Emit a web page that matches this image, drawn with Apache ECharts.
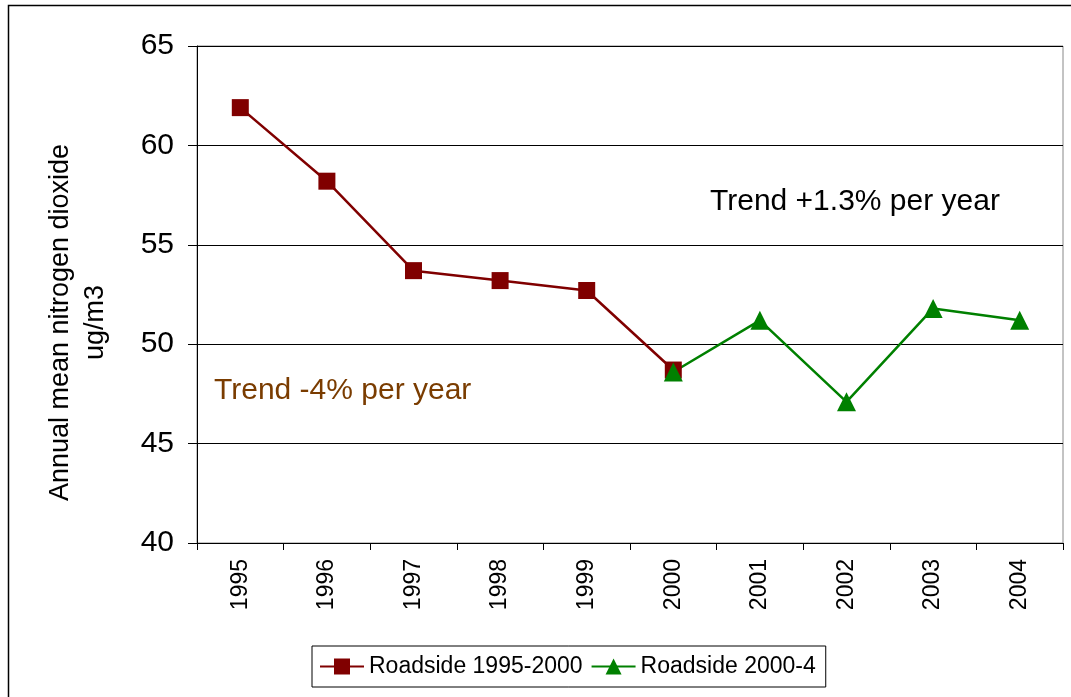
<!DOCTYPE html>
<html>
<head>
<meta charset="utf-8">
<script src="https://cdn.jsdelivr.net/npm/echarts@6/dist/echarts.min.js"></script>
<style>
  html, body { margin: 0; padding: 0; background: #fff; }
  #chart { width: 1071px; height: 697px; }
</style>
</head>
<body>
<div id="chart"></div>
<script>
// data
var years = ['1995', '1996', '1997', '1998', '1999', '2000', '2001', '2002', '2003', '2004']
var roadside95 = [61.9, 58.2, 53.7, 53.2, 52.7, 48.7, null, null, null, null]
var roadside00 = [null, null, null, null, null, 48.6, 51.2, 47.1, 51.8, 51.2]

var myChart = echarts.init(document.getElementById('chart'))
var font = 'Liberation Sans, Arial, sans-serif'

var option = {
  animation: false,
  backgroundColor: '#fff',
  textStyle: { fontFamily: font },
  grid: {
    left: 197, right: 8, top: 46, bottom: 154,
    show: true, borderColor: '#888', borderWidth: 1
  },
  // 外框 + 注释文字
  graphic: [
    {
      type: 'rect', left: 6, top: 3, silent: true,
      shape: { width: 1080, height: 720 },
      style: { fill: 'none', stroke: '#000', lineWidth: 1.5 }
    },
    {
      type: 'text', left: 710, top: 187,
      style: { text: 'Trend +1.3% per year', fill: '#000', font: '30px ' + font }
    },
    {
      type: 'text', left: 214, top: 376,
      style: { text: 'Trend -4% per year', fill: '#7a3c00', font: '30px ' + font }
    }
  ],
  legend: {
    bottom: 10,
    left: 312,
    data: ['Roadside 1995-2000', 'Roadside 2000-4'],
    itemWidth: 44,
    itemHeight: 20,
    itemGap: 8,
    borderColor: '#000',
    borderWidth: 1,
    padding: [9, 10, 9, 7],
    textStyle: { fontSize: 23, color: '#000', fontFamily: font }
  },
  xAxis: {
    type: 'category',
    data: years,
    boundaryGap: true,
    axisLine: { lineStyle: { color: '#000', width: 1 } },
    axisTick: { show: true, length: 7, lineStyle: { color: '#000' } },
    axisLabel: { rotate: 90, fontSize: 23, color: '#000', margin: 16 }
  },
  yAxis: {
    type: 'value',
    min: 40,
    max: 65,
    interval: 5,
    name: 'Annual mean nitrogen dioxide\nug/m3',
    nameLocation: 'middle',
    nameRotate: 90,
    nameGap: 84,
    nameTextStyle: { fontSize: 27, color: '#000', lineHeight: 35, padding: [0, 56, 0, 0] },
    axisLine: { show: true, lineStyle: { color: '#000' } },
    axisTick: { show: true, length: 9, lineStyle: { color: '#000' } },
    axisLabel: { fontSize: 30, color: '#000', margin: 23 },
    splitLine: { lineStyle: { color: '#000', width: 1 } }
  },
  series: [
    {
      name: 'Roadside 1995-2000',
      type: 'line',
      data: roadside95,
      symbol: 'rect',
      symbolSize: 17,
      color: '#800000',
      lineStyle: { width: 2.5, color: '#800000' },
      itemStyle: { color: '#800000' }
    },
    {
      name: 'Roadside 2000-4',
      type: 'line',
      data: roadside00,
      symbol: 'triangle',
      symbolSize: 19,
      color: '#008000',
      lineStyle: { width: 2.5, color: '#008000' },
      itemStyle: { color: '#008000' }
    }
  ]
}

myChart.setOption(option)
</script>
</body>
</html>
